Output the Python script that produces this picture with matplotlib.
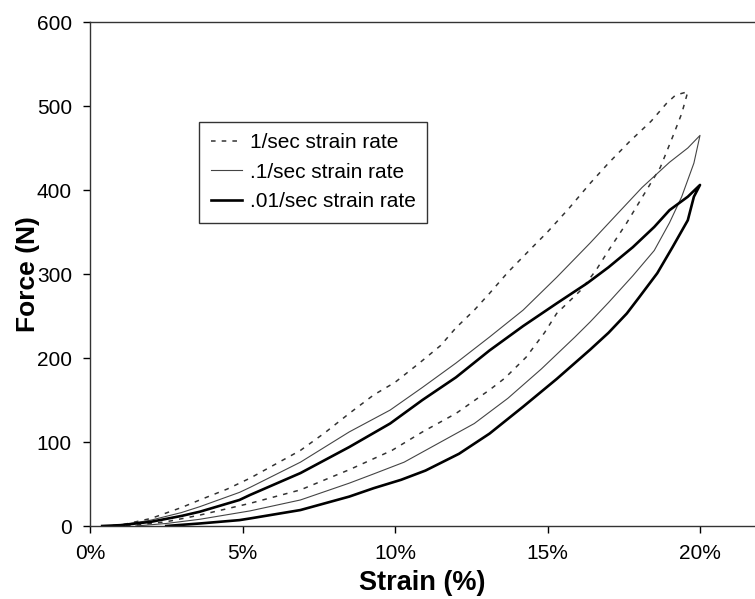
import matplotlib.pyplot as plt
from matplotlib.ticker import FuncFormatter

plt.rcParams['font.family'] = ['Liberation Sans', 'DejaVu Sans']

# strain in %, force in N; each loop = loading branch then unloading branch
fast_load_x = [0.4, 1.0, 2.0, 3.0, 3.6, 4.5, 5.25, 6.0, 6.9, 7.7, 8.5, 9.3, 10.0, 10.8, 11.5, 12.0, 12.6,
               13.1, 13.7, 14.4, 15.0, 15.7, 16.4, 17.0, 17.7, 18.4, 18.9, 19.2, 19.6]
fast_load_y = [0, 1, 9, 22, 31, 44, 57, 72, 90, 111, 134, 156, 171, 194, 215, 236, 257,
               277, 302, 328, 350, 378, 408, 432, 458, 482, 503, 513, 517]
fast_unload_x = [19.6, 19.4, 19.1, 18.7, 18.1, 17.6, 17.0, 16.6, 16.1, 15.3, 14.9, 14.3, 13.6, 13.1,
                 12.0, 10.9, 9.9, 8.5, 6.9, 5.25, 3.6, 2.5, 1.5, 1.0]
fast_unload_y = [517, 491, 463, 427, 391, 361, 328, 305, 281, 253, 230, 201, 176, 162,
                 134, 112, 90, 67, 43, 27, 13, 5, 1, 0]

mid_load_x = [0.4, 1.0, 2.0, 3.0, 3.6, 4.9, 5.25, 6.9, 8.5, 9.84, 10.9, 12.0, 13.1, 14.2, 15.3,
              16.4, 17.3, 18.1, 19.0, 19.6, 20.0]
mid_load_y = [0, 1, 7, 16, 23, 40, 46, 76, 112, 138, 165, 194, 225, 257, 296,
              337, 372, 403, 433, 450, 465]
mid_unload_x = [20.0, 19.8, 19.4, 19.0, 18.5, 17.8, 17.0, 16.4, 15.9, 14.8, 13.7, 12.6, 11.5, 10.3,
                9.3, 8.5, 6.9, 5.25, 3.6, 2.5, 1.5]
mid_unload_y = [465, 432, 392, 361, 328, 298, 266, 243, 225, 187, 152, 122, 100, 76,
                62, 51, 31, 18, 8, 3, 0]

slow_load_x = [0.4, 1.0, 2.0, 3.0, 3.6, 4.9, 5.25, 6.9, 8.5, 9.84, 10.9, 12.0, 13.1, 14.2, 15.3,
               16.3, 17.0, 17.8, 18.5, 19.0, 19.6, 20.0]
slow_load_y = [0, 1, 5, 12, 17, 31, 37, 63, 94, 122, 150, 177, 209, 238, 265,
               289, 308, 332, 356, 376, 392, 406]
slow_unload_x = [20.0, 19.8, 19.6, 19.1, 18.6, 18.0, 17.6, 17.0, 16.4, 15.3, 14.2, 13.1, 12.1, 11.0,
                 10.2, 9.3, 8.5, 6.9, 5.25, 4.9, 3.6, 2.5]
slow_unload_y = [406, 392, 364, 332, 301, 272, 253, 230, 210, 175, 142, 110, 86, 66,
                 55, 45, 35, 19, 9, 7, 3, 0]

labels = ['1/sec strain rate', '.1/sec strain rate', '.01/sec strain rate']

fig = plt.figure(figsize=(7.55, 5.99), dpi=100)
ax = fig.add_axes([90 / 755, 1 - 526 / 599, 665 / 755, 504 / 599])

ax.plot(fast_load_x + fast_unload_x, fast_load_y + fast_unload_y,
        color='#333333', lw=1.1, linestyle=(0, (3, 4)), label=labels[0])
ax.plot(mid_load_x + mid_unload_x, mid_load_y + mid_unload_y,
        color='#444444', lw=0.8, label=labels[1])
ax.plot(slow_load_x + slow_unload_x, slow_load_y + slow_unload_y,
        color='black', lw=1.9, label=labels[2])

ax.set_xlim(0, 665 / 30.5)
ax.set_ylim(0, 600)
ax.set_xticks([0, 5, 10, 15, 20])
ax.set_yticks(range(0, 601, 100))
ax.xaxis.set_major_formatter(FuncFormatter(lambda v, p: f'{v:.0f}%'))
ax.spines['right'].set_visible(False)
for s in ['top', 'left', 'bottom']:
    ax.spines[s].set_linewidth(1.0)
    ax.spines[s].set_color('#333333')
ax.tick_params(direction='out', length=5, width=1, labelsize=15)
ax.tick_params(axis='y', pad=8)
ax.tick_params(axis='x', pad=8)

ax.set_xlabel('Strain (%)', fontsize=19.5, fontweight='bold', labelpad=5)
ax.set_ylabel('Force (N)', fontsize=19, fontweight='bold', labelpad=-2)

leg = ax.legend(loc='upper left', bbox_to_anchor=(0.164, 0.802), fontsize=15,
                frameon=True, fancybox=False, edgecolor='black', handlelength=1.5,
                handletextpad=0.4, borderpad=0.55, labelspacing=0.5, borderaxespad=0)
leg.get_frame().set_linewidth(1.0)

fig.savefig('out.png', dpi=100)
